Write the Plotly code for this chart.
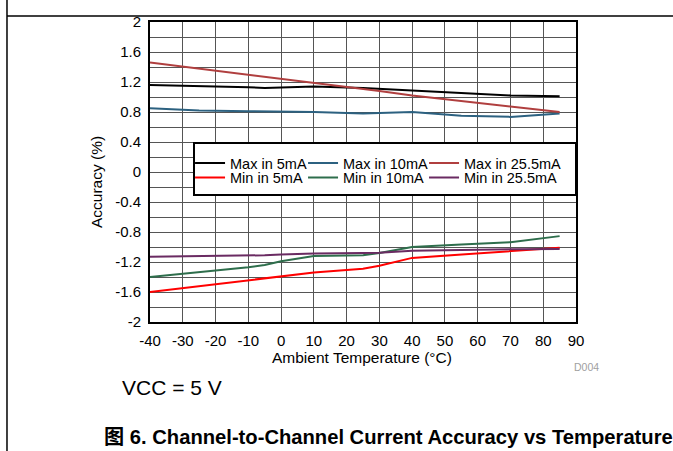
"""Channel-to-channel current accuracy vs temperature (VCC = 5 V)
Line chart rebuilt with Plotly
"""

import plotly.graph_objects as go

# temperature points (degC) shared by all series
temps = [-40, -25, -10, -5, 0, 10, 25, 30, 40, 55, 70, 85]

# accuracy in %
max_5ma = [1.16, 1.15, 1.13, 1.12, 1.13, 1.14, 1.12, 1.11, 1.08, 1.05, 1.02, 1.01]
max_10ma = [0.85, 0.82, 0.81, 0.81, 0.81, 0.80, 0.78, 0.785, 0.80, 0.75, 0.735, 0.78]
max_25ma = [1.46, 1.38, 1.30, 1.27, 1.245, 1.19, 1.11, 1.08, 1.02, 0.95, 0.87, 0.80]
min_5ma = [-1.60, -1.52, -1.44, -1.415, -1.39, -1.34, -1.29, -1.25, -1.145, -1.10, -1.05, -1.01]
min_10ma = [-1.40, -1.34, -1.27, -1.24, -1.19, -1.12, -1.11, -1.08, -1.00, -0.965, -0.935, -0.855]
min_25ma = [-1.13, -1.125, -1.115, -1.11, -1.10, -1.085, -1.08, -1.075, -1.05, -1.035, -1.03, -1.025]

# axis ticks (grid every 10 degC / 0.2 %, labels every 0.4 %)
x_ticks = [-40, -30, -20, -10, 0, 10, 20, 30, 40, 50, 60, 70, 80, 90]
x_labels = ['-40', '-30', '-20', '-10', '0', '10', '20', '30', '40', '50', '60', '70', '80', '90']
y_ticks = [-2, -1.8, -1.6, -1.4, -1.2, -1, -0.8, -0.6, -0.4, -0.2, 0,
           0.2, 0.4, 0.6, 0.8, 1, 1.2, 1.4, 1.6, 1.8, 2]
y_labels = ['-2', '', '-1.6', '', '-1.2', '', '-0.8', '', '-0.4', '', '0',
            '', '0.4', '', '0.8', '', '1.2', '', '1.6', '', '2']

FONT = 'Arial, Liberation Sans, Noto Sans CJK SC, sans-serif'

# name, values, colour, legend row, legend entry width
series = [
    ('Max in 5mA', max_5ma, '#000000', 'legend', 68),
    ('Max in 10mA', max_10ma, '#2c6180', 'legend', 76),
    ('Max in 25.5mA', max_25ma, '#b03f3f', 'legend', 100),
    ('Min in 5mA', min_5ma, '#ff0000', 'legend2', 68),
    ('Min in 10mA', min_10ma, '#2e6e4c', 'legend2', 76),
    ('Min in 25.5mA', min_25ma, '#6a2b62', 'legend2', 100),
]

fig = go.Figure()
for name, vals, color, leg, lw in series:
    fig.add_trace(go.Scatter(x=temps, y=vals, name=name, mode='lines',
                             line=dict(color=color, width=2), legend=leg,
                             legendwidth=lw))

axis_common = dict(showgrid=True, gridcolor='#555555', gridwidth=1,
                   showline=True, linecolor='black', linewidth=2, mirror=True,
                   zeroline=False, ticks='', ticklabelstandoff=4,
                   tickfont=dict(family=FONT, size=15, color='black'))

fig.update_xaxes(range=[-40, 90], tickmode='array', tickvals=x_ticks, ticktext=x_labels,
                 **axis_common)
fig.update_yaxes(range=[-2, 2], tickmode='array', tickvals=y_ticks, ticktext=y_labels,
                 **axis_common)

legend_common = dict(orientation='h', xanchor='left', yanchor='top', x=0.094,
                     entrywidthmode='pixels',
                     bgcolor='rgba(0,0,0,0)', borderwidth=0,
                     font=dict(family=FONT, size=14.5, color='black'))

fig.update_layout(
    width=673, height=451,
    margin=dict(l=150, r=97, t=22, b=129),
    plot_bgcolor='white', paper_bgcolor='white',
    font=dict(family=FONT, color='black'),
    showlegend=True,
    legend=dict(y=0.583, **legend_common),
    legend2=dict(y=0.535, **legend_common),
    shapes=[
        # legend box
        dict(type='rect', xref='paper', yref='paper', x0=0.1033, x1=1.0, y0=0.4233, y1=0.5967,
             fillcolor='white', line=dict(color='black', width=2), layer='above'),
        # page frame lines
        dict(type='line', xref='paper', yref='paper', x0=-0.3357, x1=1.23, y0=1.02, y1=1.02,
             line=dict(color='black', width=1.5)),
        dict(type='line', xref='paper', yref='paper', x0=-0.3357, x1=-0.3357, y0=-0.44, y1=1.08,
             line=dict(color='black', width=1.5)),
    ],
    annotations=[
        dict(text='Accuracy (%)', xref='paper', yref='paper', x=-0.1244, y=0.4667,
             textangle=-90, showarrow=False, xanchor='center', yanchor='middle',
             font=dict(family=FONT, size=15.5, color='black')),
        dict(text='Ambient Temperature (°C)', xref='paper', yref='paper', x=0.4977, y=-0.1167,
             showarrow=False, xanchor='center', yanchor='middle',
             font=dict(family=FONT, size=15.5, color='black')),
        dict(text='D004', xref='paper', yref='paper', x=0.9906, y=-0.149,
             showarrow=False, xanchor='left', yanchor='middle',
             font=dict(family=FONT, size=10.5, color='#a0a0a0')),
        dict(text='VCC = 5 V', xref='paper', yref='paper', x=-0.0704, y=-0.2167,
             showarrow=False, xanchor='left', yanchor='middle',
             font=dict(family=FONT, size=21, color='black')),
        dict(text='<b>图 6. Channel-to-Channel Current Accuracy vs Temperature</b>',
             xref='paper', yref='paper', x=-0.1127, y=-0.3833,
             showarrow=False, xanchor='left', yanchor='middle',
             font=dict(family=FONT, size=20.2, color='black')),
    ],
)

fig.write_html("out.html", config={'displayModeBar': False},
               post_script="document.body.style.margin='0';")
